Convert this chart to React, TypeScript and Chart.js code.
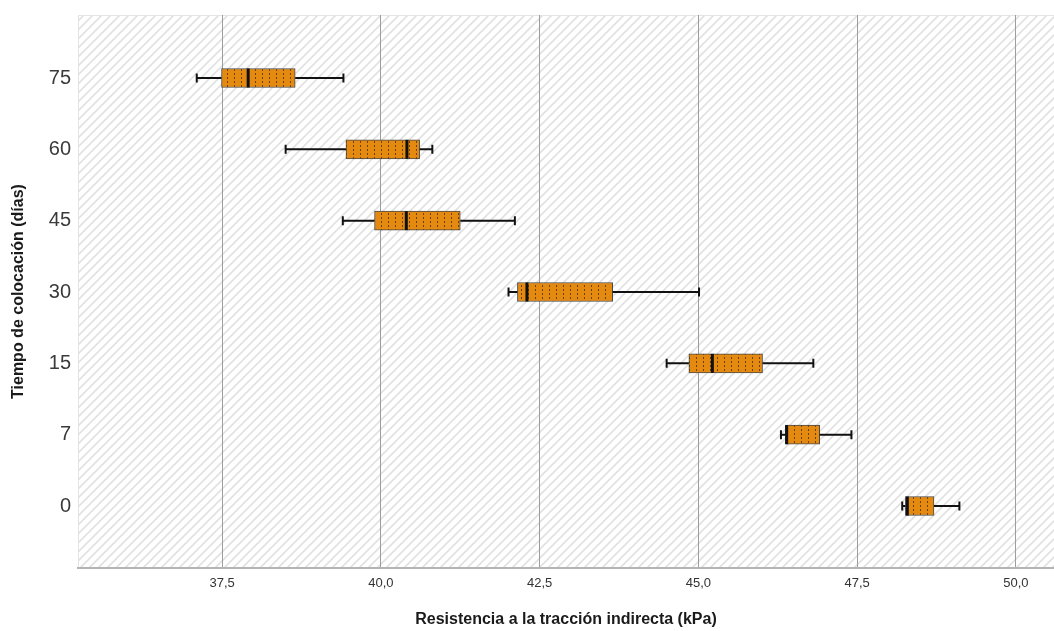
import React, { useEffect, useRef } from "react";
import { Chart, registerables } from "chart.js";

Chart.register(...registerables);

// Categories (bottom to top)
const categories = ["0", "7", "15", "30", "45", "60", "75"];
const mins = [48.21, 46.3, 44.5, 42.01, 39.4, 38.5, 37.1];
const q1s = [48.26, 46.37, 44.85, 42.15, 39.9, 39.45, 37.49];
const medians = [48.29, 46.39, 45.22, 42.3, 40.4, 40.41, 37.91];
const q3s = [48.71, 46.91, 46.01, 43.65, 41.25, 40.61, 38.65];
const maxs = [49.11, 47.41, 46.81, 45.01, 42.11, 40.81, 39.41];
const xTicks = [37.5, 40.0, 42.5, 45.0, 47.5, 50.0];

function makeHatch(): CanvasPattern | string {
  const s = 9;
  const c = document.createElement("canvas");
  c.width = s;
  c.height = s;
  const g = c.getContext("2d");
  if (!g) return "#fff";
  g.fillStyle = "#ffffff";
  g.fillRect(0, 0, s, s);
  g.strokeStyle = "#e1e1e1";
  g.lineWidth = 1.6;
  g.beginPath();
  g.moveTo(-1, 1);
  g.lineTo(1, -1);
  g.moveTo(0, s);
  g.lineTo(s, 0);
  g.moveTo(s - 1, s + 1);
  g.lineTo(s + 1, s - 1);
  g.stroke();
  return g.createPattern(c, "repeat") || "#fff";
}

function makeDots(): CanvasPattern | string {
  const w = 7;
  const h = 4;
  const c = document.createElement("canvas");
  c.width = w;
  c.height = h;
  const g = c.getContext("2d");
  if (!g) return "#E48A10";
  g.fillStyle = "#E48A10";
  g.fillRect(0, 0, w, h);
  g.fillStyle = "rgba(80,45,0,0.8)";
  g.fillRect(3, 1, 1, 2);
  return g.createPattern(c, "repeat") || "#E48A10";
}

export default function App() {
  const ref = useRef<HTMLCanvasElement | null>(null);

  useEffect(() => {
    if (!ref.current) return;
    const hatch = makeHatch();
    const dots = makeDots();

    const bgPlugin = {
      id: "hatchBg",
      beforeDraw(chart: any) {
        const { ctx, chartArea } = chart;
        ctx.save();
        ctx.fillStyle = hatch;
        ctx.fillRect(chartArea.left, chartArea.top, chartArea.right - chartArea.left, chartArea.bottom - chartArea.top);
        ctx.strokeStyle = "#e4e4e4";
        ctx.lineWidth = 1;
        ctx.beginPath();
        ctx.moveTo(chartArea.left + 0.5, chartArea.bottom);
        ctx.lineTo(chartArea.left + 0.5, chartArea.top + 0.5);
        ctx.lineTo(chartArea.right, chartArea.top + 0.5);
        ctx.stroke();
        ctx.restore();
      },
    };

    const whiskerPlugin = {
      id: "whiskers",
      afterDatasetsDraw(chart: any) {
        const { ctx } = chart;
        const xs = chart.scales.x;
        const ys = chart.scales.y;
        const half = 9.5;
        const cap = 4.5;
        ctx.save();
        ctx.strokeStyle = "#111";
        for (let i = 0; i < categories.length; i++) {
          const y = ys.getPixelForValue(i);
          const xmin = xs.getPixelForValue(mins[i]);
          const xq1 = xs.getPixelForValue(q1s[i]);
          const xq3 = xs.getPixelForValue(q3s[i]);
          const xmax = xs.getPixelForValue(maxs[i]);
          const xmed = xs.getPixelForValue(medians[i]);
          ctx.lineWidth = 2;
          ctx.beginPath();
          ctx.moveTo(xmin, y);
          ctx.lineTo(xq1, y);
          ctx.moveTo(xq3, y);
          ctx.lineTo(xmax, y);
          ctx.moveTo(xmin, y - cap);
          ctx.lineTo(xmin, y + cap);
          ctx.moveTo(xmax, y - cap);
          ctx.lineTo(xmax, y + cap);
          ctx.stroke();
          ctx.lineWidth = 3;
          ctx.beginPath();
          ctx.moveTo(xmed, y - half);
          ctx.lineTo(xmed, y + half);
          ctx.stroke();
        }
        ctx.restore();
      },
    };

    const chart = new Chart(ref.current, {
      type: "bar",
      data: {
        datasets: [
          {
            data: categories.map((_, i) => ({ y: i, x: [q1s[i], q3s[i]] })) as any,
            backgroundColor: dots as any,
            borderColor: "#4a4a4a",
            borderWidth: 1,
            borderSkipped: false,
            barThickness: 19,
          },
        ],
      },
      options: {
        indexAxis: "y",
        animation: false,
        responsive: false,
        maintainAspectRatio: false,
        layout: { padding: { top: 15, right: 0, left: 0, bottom: 0 } },
        plugins: { legend: { display: false }, tooltip: { enabled: false } },
        scales: {
          x: {
            type: "linear",
            min: 35.23,
            max: 50.6,
            offset: false,
            afterBuildTicks: (s: any) => {
              s.ticks = xTicks.map((v) => ({ value: v }));
            },
            afterFit: (s: any) => {
              s.height = 63;
              s.paddingLeft = 0;
              s.paddingRight = 0;
            },
            ticks: {
              padding: 8,
              color: "#333",
              font: { family: "'Liberation Sans', Arial, sans-serif", size: 13 },
              callback: (v: any) => Number(v).toFixed(1).replace(".", ","),
            },
            grid: { color: "#9d9d9d", lineWidth: 1, drawTicks: false, offset: false },
            border: { display: true, color: "#b4b4b4", width: 2 },
            title: {
              display: true,
              text: "Resistencia a la tracción indirecta (kPa)",
              color: "#1a1a1a",
              padding: { top: 0, bottom: 2 },
              font: { family: "'Liberation Sans', Arial, sans-serif", size: 16, weight: "bold" },
            },
          },
          y: {
            type: "linear",
            min: -0.869,
            max: 6.883,
            offset: false,
            afterBuildTicks: (s: any) => {
              s.ticks = categories.map((_, i) => ({ value: i }));
            },
            afterFit: (s: any) => {
              s.width = 78;
              s.paddingTop = 0;
              s.paddingBottom = 0;
            },
            ticks: {
              padding: 7,
              color: "#3a3a3a",
              font: { family: "'Liberation Sans', Arial, sans-serif", size: 20 },
              callback: (v: any) => categories[Number(v)] ?? "",
            },
            grid: { display: false, drawTicks: false, offset: false },
            border: { display: false },
            title: {
              display: true,
              text: "Tiempo de colocación (días)",
              color: "#1a1a1a",
              padding: { top: 9, bottom: 0 },
              font: { family: "'Liberation Sans', Arial, sans-serif", size: 16, weight: "bold" },
            },
          },
        },
      },
      plugins: [bgPlugin, whiskerPlugin],
    } as any);

    return () => chart.destroy();
  }, []);

  return (
    <div style={{ position: "absolute", left: 0, top: 0, width: 1054, height: 631, background: "#fff" }}>
      <canvas ref={ref} width={1054} height={631} style={{ width: 1054, height: 631, display: "block" }} />
    </div>
  );
}
